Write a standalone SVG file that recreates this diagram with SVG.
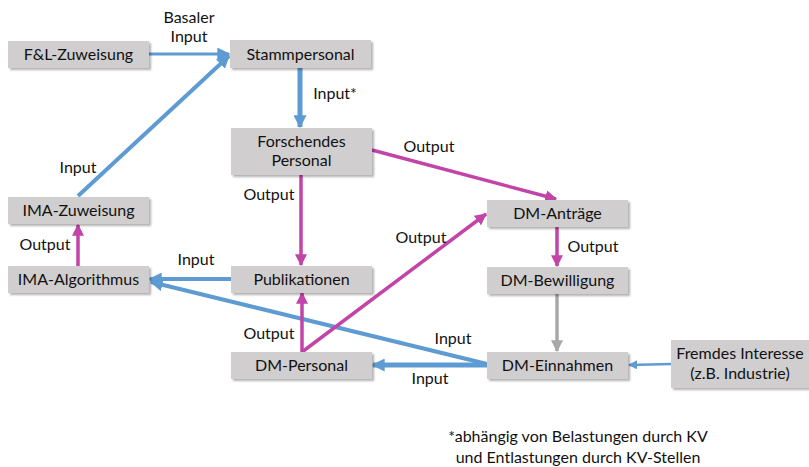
<svg xmlns="http://www.w3.org/2000/svg" width="809" height="467" viewBox="0 0 809 467">
<style>
.box{fill:#d0cece;filter:url(#sh)}
.t{font-family:Lato,"Liberation Sans",sans-serif;font-size:16px;fill:#111;text-anchor:middle}
.b{stroke:#5f9bd3;fill:none}
.m{stroke:#c244a8;fill:none;stroke-width:3.5}
.g{stroke:#a8a8a8;fill:none;stroke-width:3.5}
</style>
<defs>
<filter id="sh" x="-10%" y="-20%" width="130%" height="160%"><feDropShadow dx="2" dy="2" stdDeviation="1.2" flood-color="#000" flood-opacity="0.3"/></filter>
<marker id="ab" viewBox="0 0 10 10" refX="9" refY="5" markerWidth="13" markerHeight="13" markerUnits="userSpaceOnUse" orient="auto"><path d="M0,0L10,5L0,10z" fill="#5f9bd3"/></marker>
<marker id="abs" viewBox="0 0 10 10" refX="9" refY="5" markerWidth="9" markerHeight="9" markerUnits="userSpaceOnUse" orient="auto"><path d="M0,0L10,5L0,10z" fill="#5f9bd3"/></marker>
<marker id="am" viewBox="0 0 10 10" refX="9" refY="5" markerWidth="12" markerHeight="12" markerUnits="userSpaceOnUse" orient="auto"><path d="M0,0L10,5L0,10z" fill="#c244a8"/></marker>
<marker id="ag" viewBox="0 0 10 10" refX="9" refY="5" markerWidth="12" markerHeight="12" markerUnits="userSpaceOnUse" orient="auto"><path d="M0,0L10,5L0,10z" fill="#a8a8a8"/></marker>
</defs>
<g id="connectors">
<line class="b" stroke-width="3" x1="149" y1="54" x2="229" y2="54" marker-end="url(#ab)"/>
<line class="b" stroke-width="4" x1="78" y1="196" x2="229" y2="56" marker-end="url(#ab)"/>
<line class="b" stroke-width="5" x1="300" y1="68" x2="300" y2="127" marker-end="url(#ab)"/>
<line class="m" x1="372" y1="150" x2="556" y2="199" marker-end="url(#am)"/>
<line class="m" x1="301" y1="175" x2="301" y2="265" marker-end="url(#am)"/>
<line class="m" x1="78" y1="266" x2="78" y2="225" marker-end="url(#am)"/>
<line class="b" stroke-width="4" x1="231" y1="279" x2="150" y2="279" marker-end="url(#ab)"/>
<line class="b" stroke-width="4" x1="487" y1="364" x2="151" y2="282" marker-end="url(#ab)"/>
<line class="m" x1="302" y1="352" x2="302" y2="293" marker-end="url(#am)"/>
<polyline class="m" points="302,352 486,214" marker-end="url(#am)"/>
<line class="m" x1="557" y1="227" x2="557" y2="266" marker-end="url(#am)"/>
<line class="g" x1="557" y1="294" x2="557" y2="351" marker-end="url(#ag)"/>
<line class="b" stroke-width="5" x1="487" y1="365" x2="373" y2="365" marker-end="url(#ab)"/>
<line class="b" stroke-width="2.5" x1="671" y1="364" x2="629" y2="365" marker-end="url(#abs)"/>
<text class="t" x="189" y="23">Basaler</text>
<text class="t" x="189" y="42">Input</text>
<text class="t" x="335" y="99">Input*</text>
<text class="t" x="78" y="173">Input</text>
<text class="t" x="429" y="152">Output</text>
<text class="t" x="269" y="200">Output</text>
<text class="t" x="421" y="243">Output</text>
<text class="t" x="593" y="252">Output</text>
<text class="t" x="45" y="250">Output</text>
<text class="t" x="196" y="265">Input</text>
<text class="t" x="269" y="339">Output</text>
<text class="t" x="453" y="344">Input</text>
<text class="t" x="430" y="384">Input</text>
</g>
<g id="fl"><rect class="box" x="8" y="41" width="141" height="27"/><text class="t" x="78.5" y="60">F&amp;L-Zuweisung</text></g>
<g id="stamm"><rect class="box" x="230" y="40" width="141" height="28"/><text class="t" x="300.5" y="59.5">Stammpersonal</text></g>
<g id="forsch"><rect class="box" x="231" y="128" width="141" height="47"/><text class="t" x="301.5" y="147">Forschendes</text><text class="t" x="301.5" y="166">Personal</text></g>
<g id="imaz"><rect class="box" x="8" y="197" width="141" height="27"/><text class="t" x="78.5" y="216">IMA-Zuweisung</text></g>
<g id="imaa"><rect class="box" x="8" y="266" width="141" height="27"/><text class="t" x="78.5" y="285">IMA-Algorithmus</text></g>
<g id="publ"><rect class="box" x="231" y="266" width="141" height="27"/><text class="t" x="301.5" y="285">Publikationen</text></g>
<g id="dmp"><rect class="box" x="231" y="352" width="141" height="27"/><text class="t" x="301.5" y="371">DM-Personal</text></g>
<g id="dma"><rect class="box" x="487" y="200" width="141" height="27"/><text class="t" x="557.5" y="219">DM-Anträge</text></g>
<g id="dmb"><rect class="box" x="487" y="267" width="141" height="27"/><text class="t" x="557.5" y="286">DM-Bewilligung</text></g>
<g id="dme"><rect class="box" x="487" y="352" width="141" height="27"/><text class="t" x="557.5" y="371">DM-Einnahmen</text></g>
<g id="fremd"><rect class="box" x="671" y="340" width="138" height="48"/><text class="t" x="740" y="359">Fremdes Interesse</text><text class="t" x="740" y="379">(z.B. Industrie)</text></g>
<g id="note"><text class="t" x="578" y="442">*abhängig von Belastungen durch KV</text><text class="t" x="578" y="463">und Entlastungen durch KV-Stellen</text></g>
</svg>
